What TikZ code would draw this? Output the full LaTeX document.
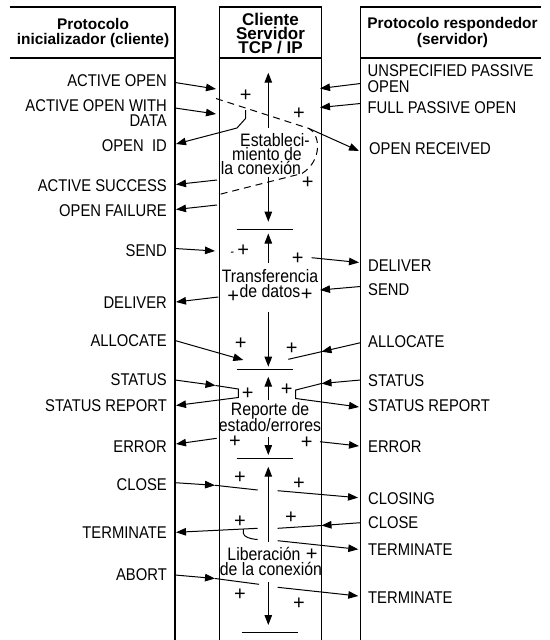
\documentclass[tikz,border=0pt]{standalone}
\usepackage{fontspec}
\setmainfont{Liberation Sans}
\newfontfamily\lblfont[FakeStretch=0.87]{Liberation Sans}
\newfontfamily\midfont[FakeStretch=0.88]{Liberation Sans}
\usetikzlibrary{arrows.meta}
\tikzset{
  lbl/.style={font=\lblfont\fontsize{17}{14}\selectfont, inner sep=0pt},
  lblL/.style={lbl, anchor=base east},
  lblR/.style={lbl, anchor=base west},
  midtxt/.style={font=\midfont\fontsize{18}{15}\selectfont, inner sep=0pt, anchor=base},
  hdr/.style={font=\bfseries\fontsize{15.4}{17}\selectfont, inner sep=0pt, anchor=base},
  hdrm/.style={font=\bfseries\fontsize{17}{14}\selectfont, inner sep=0pt, anchor=base},
  pl/.style={font=\fontsize{20}{20}\selectfont, inner sep=0pt},
  arr/.style={line width=1pt, -{Triangle[length=10pt,width=7.5pt]}},
  ln/.style={line width=1pt},
  frame/.style={line width=1.1pt},
  dsh/.style={line width=1pt, dash pattern=on 7pt off 5pt},
}
\begin{document}
\begin{tikzpicture}[x=1pt,y=-1pt]
\useasboundingbox (0,0) rectangle (549,640);
% frames
\draw[frame] (10,7) -- (175,7) -- (175,640);
\draw[frame] (10,58) -- (175,58);
\draw[frame] (219.5,640) -- (219.5,7) -- (321.5,7) -- (321.5,640);
\draw[frame] (219.5,58) -- (321.5,58);
\draw[frame] (360.5,640) -- (360.5,7) -- (541,7);
\draw[frame] (360.5,58) -- (541,58);
% headers
\node[hdr] (h1a) at (93,29.3) {Protocolo};
\node[hdr] (h1b) at (93,44.5) {inicializador (cliente)};
\node[hdrm] (h2a) at (270.5,25) {Cliente};
\node[hdrm] (h2b) at (270.5,39.3) {Servidor};
\node[hdrm] (h2c) at (270.5,53.3) {TCP / IP};
\node[hdr] (h3a) at (452.5,28.5) {Protocolo respondedor};
\node[hdr] (h3b) at (452.5,44.5) {(servidor)};
% left labels
\node[lblL] (lAO) at (167,86) {ACTIVE OPEN};
\node[lblL] (lAOW) at (167,111.5) {ACTIVE OPEN WITH};
\node[lblL] (lAOWb) at (167,126) {DATA};
\node[lblL] (lOID) at (167,151) {OPEN\ \ ID};
\node[lblL] (lAS) at (167,191) {ACTIVE SUCCESS};
\node[lblL] (lOF) at (167,216.5) {OPEN FAILURE};
\node[lblL] (lSEND) at (167,256) {SEND};
\node[lblL] (lDEL) at (167,308) {DELIVER};
\node[lblL] (lALL) at (167,346.5) {ALLOCATE};
\node[lblL] (lST) at (167,385.5) {STATUS};
\node[lblL] (lSTR) at (167,411) {STATUS REPORT};
\node[lblL] (lERR) at (167,452) {ERROR};
\node[lblL] (lCL) at (167,490.5) {CLOSE};
\node[lblL] (lTER) at (167,538.5) {TERMINATE};
\node[lblL] (lAB) at (167,580) {ABORT};
% right labels
\node[lblR] (rUPO) at (367.5,76.5) {UNSPECIFIED PASSIVE};
\node[lblR] (rUPOb) at (367.5,92) {OPEN};
\node[lblR] (rFPO) at (367.5,113.7) {FULL PASSIVE OPEN};
\node[lblR] (rOR) at (369,154.3) {OPEN RECEIVED};
\node[lblR] (rDEL) at (368,271) {DELIVER};
\node[lblR] (rSEND) at (368,295) {SEND};
\node[lblR] (rALL) at (368,347.7) {ALLOCATE};
\node[lblR] (rST) at (368,386) {STATUS};
\node[lblR] (rSTR) at (368,411) {STATUS REPORT};
\node[lblR] (rERR) at (368,452) {ERROR};
\node[lblR] (rCLG) at (368,504.3) {CLOSING};
\node[lblR] (rCL) at (368,528.3) {CLOSE};
\node[lblR] (rTER1) at (368,555) {TERMINATE};
\node[lblR] (rTER2) at (368,603.7) {TERMINATE};
% middle texts
\node[midtxt] (m1a) at (275,146) {Estableci-};
\node[midtxt] (m1b) at (267,160.5) {miento de};
\node[midtxt] (m1c) at (261,174.5) {la conexión};
\node[midtxt] (m2a) at (270,282.5) {Transferencia};
\node[midtxt] (m2b) at (270,297.5) {de datos};
\node[midtxt] (m3a) at (270,415) {Reporte de};
\node[midtxt] (m3b) at (270,431) {estado/errores};
\node[midtxt] (m4a) at (264,560) {Liberación};
\node[midtxt] (m4b) at (271,575.5) {de la conexión};
% plus signs
\foreach \n/\x/\y in {p1/245.7/95.7, p2/299/113.3, p3/307.7/182.7,
  p4/243.3/250.5, p5/297.7/258.3, p6/306.7/295, p7/233.3/296.7,
  p8/240.7/343.3, p9/291.7/348.3, p10/247.7/394, p11/286.7/389.3,
  p12/235/441.7, p13/306.7/442.7, p14/240/477.3, p15/299/484,
  p16/291/517.3, p17/240/521.7, p18/311.7/555, p19/240/595, p20/299/604}
  \node[pl] (\n) at (\x,\y) {+};
% coordinates
\coordinate (c1) at (175,82.5);   \coordinate (c1e) at (216,89);
\coordinate (c2) at (175,108);    \coordinate (c2e) at (216,114);
\coordinate (c3) at (360.5,83.5); \coordinate (c3e) at (320,88.5);
\coordinate (c4) at (360.5,103.5);\coordinate (c4e) at (320,107.5);
\coordinate (c5a) at (245.7,110); \coordinate (c5b) at (245.7,118.3);
\coordinate (c5c) at (237,128);   \coordinate (c5e) at (176,144);
\coordinate (d1) at (216,98.5);   \coordinate (d2) at (309,128.5);
\coordinate (d3) at (302,173.5);  \coordinate (d4) at (217,195);
\coordinate (c6e) at (359,151);
\coordinate (c7) at (217,180);    \coordinate (c7e) at (176,184.5);
\coordinate (c8) at (217,205);    \coordinate (c8e) at (176,209.5);
\coordinate (v1a) at (268.3,128); \coordinate (v1t) at (268.3,72.7);
\coordinate (v1b) at (268.3,176.7);\coordinate (v1d) at (268.3,221.7);
% section 1 connectors
\draw[arr] (c1) -- (c1e);
\draw[arr] (c2) -- (c2e);
\draw[arr] (c3) -- (c3e);
\draw[arr] (c4) -- (c4e);
\draw[arr] (c5a) -- (c5b) -- (c5c) -- (c5e);
\draw[dsh] (d1) -- (d2) .. controls (320,134) and (323,160) .. (d3) -- (d4);
\draw[arr] (d2) -- (c6e);
\draw[arr] (c7) -- (c7e);
\draw[arr] (c8) -- (c8e);
\draw[arr] (v1a) -- (v1t);
\draw[arr] (v1b) -- (v1d);
\draw[ln] (236.7,229.3) -- (293.3,229.3);
% section 2
\coordinate (s1) at (175,248.5); \coordinate (s1e) at (215,251);
\coordinate (s2) at (311.7,257.7); \coordinate (s2e) at (359,262.5);
\coordinate (s3) at (360.5,286.5); \coordinate (s3e) at (320,290);
\coordinate (s4) at (218.3,297); \coordinate (s4e) at (176,302);
\draw[arr] (268.3,263) -- (268.3,233.5);
\draw[arr] (s1) -- (s1e);
\draw[ln] (231,252) -- (233.5,252.2);
\draw[arr] (s2) -- (s2e);
\draw[arr] (s3) -- (s3e);
\draw[arr] (s4) -- (s4e);
\draw[arr] (268.3,311.7) -- (268.3,366.7);
\coordinate (a1) at (175,340.5); \coordinate (a1e) at (243.3,360);
\coordinate (a2) at (360.5,342.7); \coordinate (a2m) at (321.5,351.7); \coordinate (a2e) at (288.3,359.3);
\draw[arr] (a1) -- (a1e);
\draw[arr] (a2) -- (a2m);
\draw[ln] (a2m) -- (a2e);
\draw[ln] (236.7,369.3) -- (293.3,369.3);
% section 3
\draw[arr] (268.3,400) -- (268.3,376.7);
\coordinate (t1) at (175,380); \coordinate (t1m) at (215.5,385.5);
\draw[arr] (t1) -- (t1m);
\draw[arr] (t1m) -- (238.3,389) -- (238.3,397.5) -- (176,405.5);
\coordinate (t2) at (360.5,380); \coordinate (t2m) at (321.5,383.5);
\draw[arr] (t2) -- (t2m);
\draw[arr] (t2m) -- (295.7,390) -- (295.7,398.5) -- (359,407);
\coordinate (e1) at (216.7,438.3); \coordinate (e1e) at (176,444);
\coordinate (e2) at (320,441.7); \coordinate (e2e) at (359,446);
\draw[arr] (e1) -- (e1e);
\draw[arr] (e2) -- (e2e);
\draw[arr] (268.3,436.7) -- (268.3,455);
\draw[ln] (236.7,458.3) -- (293.3,458.3);
% section 4
\draw[arr] (268.3,541.7) -- (268.3,466.7);
\draw[arr] (268.3,581.7) -- (268.3,625);
\draw[ln] (241.7,632.3) -- (298.3,632.3);
\coordinate (k1) at (175,482.7); \coordinate (k1m) at (215,485.3); \coordinate (k1e) at (257.7,490);
\draw[arr] (k1) -- (k1m);
\draw[ln] (k1m) -- (k1e);
\coordinate (k2) at (277.7,490.7); \coordinate (k2e) at (358,497.7);
\draw[arr] (k2) -- (k2e);
\coordinate (k3) at (360.5,522.7); \coordinate (k3m) at (321.5,525.5); \coordinate (k3e) at (277.7,528.3);
\draw[arr] (k3) -- (k3m);
\draw[ln] (k3m) -- (k3e);
\coordinate (k4) at (257.7,528.3); \coordinate (k4e) at (176,532.3);
\draw[arr] (k4) -- (k4e);
\draw[ln] (243.3,529.2) -- (243.3,533.3) .. controls (244,537) and (250,539) .. (257.7,539.5);
\coordinate (k5) at (277.7,540.7); \coordinate (k5e) at (358.3,549.3);
\draw[arr] (k5) -- (k5e);
\coordinate (k6) at (175,575); \coordinate (k6m) at (215,578.5); \coordinate (k6e) at (259,584.3);
\draw[arr] (k6) -- (k6m);
\draw[ln] (k6m) -- (k6e);
\coordinate (k7) at (277.7,587.3); \coordinate (k7e) at (358.3,596);
\draw[arr] (k7) -- (k7e);
\end{tikzpicture}
\end{document}
